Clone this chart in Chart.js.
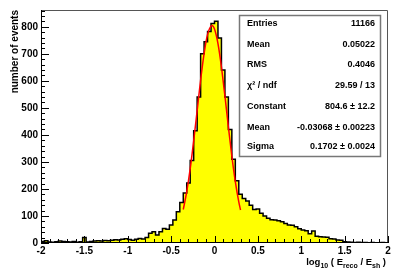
<!DOCTYPE html>
<html>
<head>
<meta charset="utf-8">
<script src="https://cdn.jsdelivr.net/npm/chart.js@4.4.0/dist/chart.umd.min.js"></script>
<style>
  html, body { margin: 0; padding: 0; background: #fff; }
  canvas { display: block; }
</style>
</head>
<body>
<canvas id="histo" width="403" height="271"></canvas>
<script>
// Histogram: 100 bins of 0.04 from -2 to 2
const binLow = -2;
const binWidth = 0.04;
const counts = [
    6, 8, 4, 3, 5, 7, 6, 5, 4, 6, 3, 5, 20, 4, 6, 7, 8, 7, 9, 8, 10, 12, 11, 14, 16,
    13, 10, 14, 17, 15, 20, 36, 42, 30, 42, 54, 51, 67, 85, 116,
    150, 185, 222, 305, 415, 540, 700, 745, 782, 812, 820,
    758, 640, 540, 420, 310, 230, 180, 165, 155, 140, 124, 126, 110, 100, 92, 86, 85, 82, 79, 72, 67, 66, 60, 53, 48,
    45, 34, 44, 25, 23, 22, 21, 16, 15, 11, 10, 5, 4, 3, 2, 3, 2, 2, 1, 2, 1, 1, 2, 1
];

// Gaussian fit curve
const fitX = [-0.36, -0.32, -0.28, -0.24, -0.20, -0.16, -0.12, -0.08, -0.04, -0.03, 0.00, 0.04, 0.08, 0.12, 0.16, 0.20, 0.24, 0.28, 0.30];
const fitY = [124, 190, 275, 378, 490, 603, 701, 772, 803, 805, 792, 738, 651, 544, 430, 321, 227, 152, 122];

// Stats box
const statNames = ['Entries', 'Mean', 'RMS', 'χ² / ndf', 'Constant', 'Mean', 'Sigma'];
const statValues = ['11166', '0.05022', '0.4046', '29.59 / 13', '804.6 ± 12.2', '-0.03068 ± 0.00223', '0.1702 ± 0.0024'];

const FONT = "'Liberation Sans', Arial, sans-serif";

// Build step points for the histogram outline
const histPoints = [{x: binLow, y: 0}];
counts.forEach((c, i) => histPoints.push({x: binLow + i * binWidth, y: c}));
histPoints.push({x: binLow + counts.length * binWidth, y: counts[counts.length - 1]});
histPoints.push({x: binLow + counts.length * binWidth, y: 0});

const fitPoints = fitX.map((x, i) => ({x: x, y: fitY[i]}));

// ROOT style frame, inward ticks, titles and stats box
const rootDecor = {
    id: 'rootDecor',
    afterDatasetsDraw(chart) {
        const {ctx, chartArea: a, scales: {x, y}} = chart;
        ctx.save();
        ctx.lineWidth = 1;

        // frame
        ctx.strokeStyle = '#555';
        ctx.beginPath();
        ctx.moveTo(a.left, a.top + 0.5);
        ctx.lineTo(a.right - 0.5, a.top + 0.5);
        ctx.lineTo(a.right - 0.5, a.bottom);
        ctx.stroke();
        ctx.strokeStyle = '#000';
        ctx.beginPath();
        ctx.moveTo(a.left + 0.5, a.top);
        ctx.lineTo(a.left + 0.5, a.bottom - 0.5);
        ctx.lineTo(a.right, a.bottom - 0.5);
        ctx.stroke();

        // x ticks every 0.1, major every 0.5
        ctx.beginPath();
        for (let i = 0; i <= 40; i++) {
            const px = Math.round(x.getPixelForValue(-2 + i * 0.1)) + 0.5;
            ctx.moveTo(px, a.bottom);
            ctx.lineTo(px, a.bottom - (i % 5 === 0 ? 7 : 4));
        }
        // y ticks every 20, major every 100
        for (let i = 0; i <= 43; i++) {
            const py = Math.round(y.getPixelForValue(i * 20)) + 0.5;
            ctx.moveTo(a.left, py);
            ctx.lineTo(a.left + (i % 5 === 0 ? 8 : 4), py);
        }
        ctx.stroke();
        ctx.restore();
    },
    afterDraw(chart) {
        const {ctx, chartArea: a} = chart;
        ctx.save();
        ctx.fillStyle = '#000';

        // y title, rotated, aligned to the top
        ctx.save();
        ctx.translate(15, a.top);
        ctx.rotate(-Math.PI / 2);
        ctx.font = 'bold 10px ' + FONT;
        ctx.textAlign = 'right';
        ctx.textBaseline = 'middle';
        ctx.fillText('number of events', 0, 0);
        ctx.restore();

        // x title with subscripts, right aligned
        const parts = [
            ['log', false], ['10', true], [' ( E', false], ['reco', true],
            [' / E', false], ['sh', true], [' )', false]
        ];
        const mainFont = 'bold 9.5px ' + FONT;
        const subFont = 'bold 7px ' + FONT;
        let total = 0;
        parts.forEach(p => { ctx.font = p[1] ? subFont : mainFont; total += ctx.measureText(p[0]).width; });
        let cx = a.right - 2 - total;
        const base = 265;
        ctx.textAlign = 'left';
        ctx.textBaseline = 'alphabetic';
        parts.forEach(p => {
            ctx.font = p[1] ? subFont : mainFont;
            ctx.fillText(p[0], cx, p[1] ? base + 2.5 : base);
            cx += ctx.measureText(p[0]).width;
        });

        // stats box
        const bx = 239.5, by = 15.5, bw = 141, bh = 141;
        ctx.fillStyle = '#fff';
        ctx.fillRect(bx, by, bw, bh);
        ctx.strokeStyle = '#777';
        ctx.lineWidth = 1.5;
        ctx.strokeRect(bx, by, bw, bh);
        ctx.fillStyle = '#000';
        ctx.font = 'bold 9px ' + FONT;
        ctx.textBaseline = 'middle';
        const rowY = [23.5, 44.5, 65, 86, 107, 128, 147];
        statNames.forEach((n, i) => {
            ctx.textAlign = 'left';
            ctx.fillText(n, 247, rowY[i]);
            ctx.textAlign = 'right';
            ctx.fillText(statValues[i], 375, rowY[i]);
        });
        ctx.restore();
    }
};

new Chart(document.getElementById('histo'), {
    type: 'line',
    data: {
        datasets: [
            {
                label: 'fit',
                data: fitPoints,
                borderColor: '#ff0000',
                borderWidth: 1.5,
                pointRadius: 0,
                fill: false,
                cubicInterpolationMode: 'monotone',
                order: 0
            },
            {
                label: 'histogram',
                data: histPoints,
                stepped: 'before',
                borderColor: '#000',
                borderWidth: 1.5,
                backgroundColor: '#ffff00',
                pointRadius: 0,
                fill: 'origin',
                order: 1
            }
        ]
    },
    options: {
        responsive: false,
        animation: false,
        devicePixelRatio: 1,
        layout: { padding: { top: 10, right: 15, left: 0, bottom: 0 } },
        plugins: {
            legend: { display: false },
            tooltip: { enabled: false }
        },
        scales: {
            x: {
                type: 'linear',
                min: -2,
                max: 2,
                grid: { display: false, drawTicks: false },
                border: { display: false },
                ticks: {
                    stepSize: 0.5,
                    padding: 2,
                    color: '#000',
                    maxRotation: 0,
                    font: { family: FONT, size: 10, weight: 'bold' },
                    callback: v => String(Number(v.toFixed(1)))
                },
                afterFit: s => { s.height = 28; }
            },
            y: {
                type: 'linear',
                min: 0,
                max: 862,
                grid: { display: false, drawTicks: false },
                border: { display: false },
                ticks: {
                    stepSize: 100,
                    includeBounds: false,
                    padding: 3,
                    color: '#000',
                    font: { family: FONT, size: 10, weight: 'bold' }
                },
                afterFit: s => { s.width = 41; }
            }
        }
    },
    plugins: [rootDecor]
});
</script>
</body>
</html>
